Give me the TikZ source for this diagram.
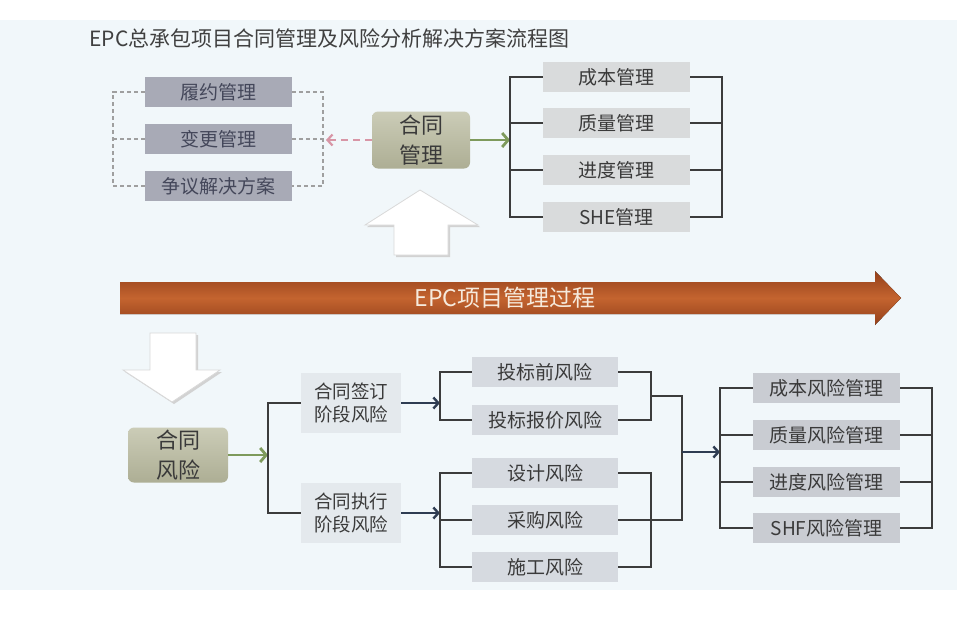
\documentclass[tikz,border=0pt]{standalone}
\usepackage{fontspec}
\setmainfont{Noto Sans CJK SC}
\usepackage{xcolor}
\usepackage{tikz}
\usetikzlibrary{arrows.meta,positioning,calc}

\definecolor{bgblue}{HTML}{F1F7FA}
\definecolor{titlegray}{HTML}{404040}
\definecolor{boxdark}{HTML}{A8AAB6}
\definecolor{boxdarktext}{HTML}{44475A}
\definecolor{boxlight}{HTML}{D9DBDC}
\definecolor{riskfill}{HTML}{D6DAE0}
\definecolor{mgmtfill}{HTML}{C9CCD2}
\definecolor{stagefill}{HTML}{E4E9ED}
\definecolor{boxtext}{HTML}{3A3A3A}
\definecolor{olivetop}{HTML}{CBCCB7}
\definecolor{olivebot}{HTML}{ADAE94}
\definecolor{arrowgreen}{HTML}{7E9A5C}
\definecolor{arrowpink}{HTML}{D896A6}
\definecolor{arrownavy}{HTML}{2E3C52}
\definecolor{bracketgray}{HTML}{3C3C3C}
\definecolor{epcdark}{HTML}{93401B}
\definecolor{epcmid}{HTML}{C4642F}
\definecolor{epctext}{HTML}{F6EADC}

\begin{document}
\begin{tikzpicture}[x=1pt,y=-1pt,
  >={Straight Barb[length=5pt,width=11pt]},
  darkbox/.style={fill=boxdark,text=boxdarktext,minimum width=147pt,minimum height=30pt,inner sep=0pt,font=\fontsize{19}{22}\selectfont},
  lightbox/.style={darkbox,fill=boxlight,text=boxtext},
  riskbox/.style={darkbox,fill=riskfill,text=boxtext,minimum width=146pt},
  mgmtbox/.style={darkbox,fill=mgmtfill,text=boxtext},
  stagebox/.style={fill=stagefill,text=boxtext,minimum width=100pt,minimum height=60pt,inner sep=0pt,align=center,font=\fontsize{18.5}{23}\selectfont},
  keybox/.style={rounded corners=6pt,top color=olivetop,bottom color=olivebot,text=boxtext,minimum width=98pt,minimum height=57pt,inner sep=0pt,align=center,font=\fontsize{22}{30}\selectfont},
  frame/.style={draw=gray!75,line width=1.2pt,dash pattern=on 4pt off 3pt},
  bracket/.style={draw=bracketgray,line width=1.5pt},
  greenarrow/.style={-{Straight Barb[length=6pt,width=14pt]},draw=arrowgreen,line width=2.8pt},
  pinkarrow/.style={->,draw=arrowpink,line width=2.2pt,dash pattern=on 7pt off 5pt},
  navyarrow/.style={->,draw=arrownavy,line width=2.4pt},
  hollow/.style={fill=white,draw=gray!30,line width=0.8pt},
  hollowshade/.style={fill=gray!35}]
  \useasboundingbox (0,0) rectangle (957,641);
  \fill[bgblue] (0,20) rectangle (957,590);

  \node[anchor=west,text=titlegray,font=\fontsize{21}{24}\selectfont] (title) at (86,38) {EPC总承包项目合同管理及风险分析解决方案流程图};

  % contract management
  \foreach \name/\txt/\y in {lv/履约管理/92, lc/变更管理/139, ld/争议解决方案/186}
    \node[darkbox] (\name) at (218.5,\y) {\txt};
  \coordinate (fl) at (113,0);
  \coordinate (fr) at (323,0);
  \draw[frame] (lv.west) -- (lv.west -| fl) -- (ld.west -| fl) -- (ld.west);
  \draw[frame] (lc.west) -- (lc.west -| fl);
  \draw[frame] (lv.east) -- (lv.east -| fr) -- (ld.east -| fr) -- (ld.east);
  \draw[frame] (lc.east) -- (lc.east -| fr);

  \node[keybox] (ht) at (421,140) {合同\\管理};
  \draw[pinkarrow,shorten >=3pt] (ht.west) -- (ht.west -| fr);

  \foreach \name/\txt/\y in {mc/成本管理/77, mq/质量管理/123, ms/进度管理/170, mh/SHE管理/217}
    \node[lightbox] (\name) at (616.5,\y) {\txt};
  \coordinate (tl) at (510,0);
  \coordinate (tr) at (722,0);
  \draw[greenarrow] (ht.east) -- (ht.east -| tl);
  \draw[bracket] (mc.west) -- (mc.west -| tl) -- (mh.west -| tl) -- (mh.west);
  \draw[bracket] (mc.east) -- (mc.east -| tr) -- (mh.east -| tr) -- (mh.east);
  \foreach \name in {mq,ms}{
    \draw[bracket] (\name.west) -- (\name.west -| tl);
    \draw[bracket] (\name.east) -- (\name.east -| tr);
  }

  \fill[hollowshade] (422,192) -- (480,227) -- (450,227) -- (450,257) -- (396,257) -- (396,227) -- (367,227) -- cycle;
  \draw[hollow] (420,190) -- (478,225) -- (448,225) -- (448,255) -- (394,255) -- (394,225) -- (365,225) -- cycle;

  % process bar
  \fill[top color=epcdark,bottom color=epcdark,middle color=epcmid] (120,282) -- (875,282) -- (875,271) -- (901,298) -- (875,325) -- (875,314) -- (120,314) -- cycle;
  \node[text=epctext,font=\fontsize{23}{26}\selectfont] (epc) at (505,298) {EPC项目管理过程};

  \fill[hollowshade] (152,335) -- (198,335) -- (198,372) -- (222,372) -- (174,404) -- (125,372) -- (152,372) -- cycle;
  \draw[hollow] (150,333) -- (196,333) -- (196,370) -- (220,370) -- (172,402) -- (123,370) -- (150,370) -- cycle;

  % contract risk
  \node[keybox,minimum width=100pt,minimum height=55pt] (hr) at (178,455) {合同\\风险};
  \node[stagebox] (sa) at (351,403) {合同签订\\阶段风险};
  \node[stagebox] (sb) at (351,513) {合同执行\\阶段风险};
  \coordinate (sl) at (268,0);
  \draw[greenarrow] (hr.east) -- (hr.east -| sl);
  \draw[bracket] (sa.west) -- (sa.west -| sl) -- (sb.west -| sl) -- (sb.west);

  \foreach \name/\txt/\y in {ra/投标前风险/372, rb/投标报价风险/420, rc/设计风险/473, rd/采购风险/520, re/施工风险/567}
    \node[riskbox] (\name) at (545,\y) {\txt};
  \coordinate (rl) at (440,0);
  \coordinate (rr) at (651,0);
  \coordinate (rj) at (682,0);
  \draw[navyarrow] (sa.east) -- (sa.east -| rl);
  \draw[navyarrow] (sb.east) -- (sb.east -| rl);
  \draw[bracket] (ra.west) -- (ra.west -| rl) -- (rb.west -| rl) -- (rb.west);
  \draw[bracket] (ra.east) -- (ra.east -| rr) -- (rb.east -| rr) -- (rb.east);
  \draw[bracket] (rc.west) -- (rc.west -| rl) -- (re.west -| rl) -- (re.west);
  \draw[bracket] (rd.west) -- (rd.west -| rl);
  \draw[bracket] (rc.east) -- (rc.east -| rr) -- (re.east -| rr) -- (re.east);
  \coordinate (ab) at ($(ra.east -| rr)!0.5!(rb.east -| rr)$);
  \draw[bracket] (ab) -- (ab -| rj) -- (rd.east -| rj) -- (rd.east);

  \foreach \name/\txt/\y in {na/成本风险管理/388, nb/质量风险管理/435, nc/进度风险管理/482, nd/SHF风险管理/528}
    \node[mgmtbox] (\name) at (826.5,\y) {\txt};
  \coordinate (al) at (720,0);
  \coordinate (ar) at (932,0);
  \coordinate (aj) at (682,452);
  \draw[navyarrow] (aj) -- (aj -| al);
  \draw[bracket] (na.west) -- (na.west -| al) -- (nd.west -| al) -- (nd.west);
  \draw[bracket] (na.east) -- (na.east -| ar) -- (nd.east -| ar) -- (nd.east);
  \foreach \name in {nb,nc}{
    \draw[bracket] (\name.west) -- (\name.west -| al);
    \draw[bracket] (\name.east) -- (\name.east -| ar);
  }
\end{tikzpicture}
\end{document}
